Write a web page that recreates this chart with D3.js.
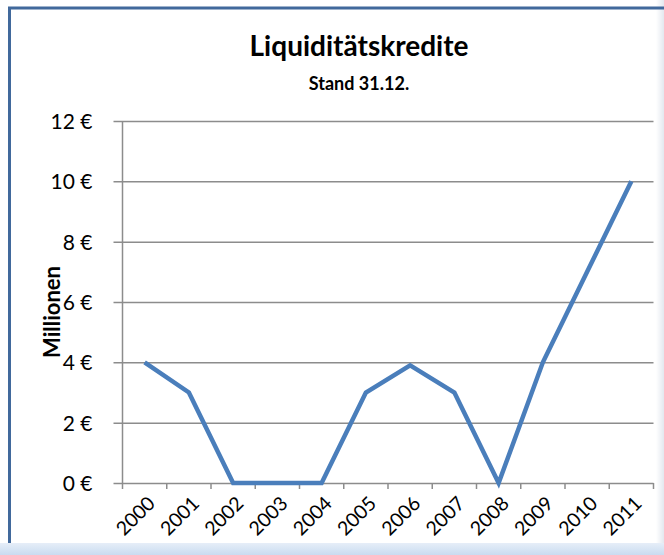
<!DOCTYPE html>
<html>
<head>
<meta charset="utf-8">
<script src="https://cdn.jsdelivr.net/npm/d3@7"></script>
<style>
  body { margin: 0; background: #fff; }
  svg { display: block; font-family: Lato, "Open Sans", sans-serif; }
</style>
</head>
<body>
<div id="chart"></div>
<script>
// data
var years = ["2000", "2001", "2002", "2003", "2004", "2005", "2006", "2007", "2008", "2009", "2010", "2011"];
var values = [4, 3, 0, 0, 0, 3, 3.9, 3, 0, 4, 7, 10];
var yTicks = [0, 2, 4, 6, 8, 10, 12];

var width = 664, height = 555;
var plotLeft = 122.5, plotRight = 653.5, plotTop = 121, plotBottom = 483;

var svg = d3.select("#chart").append("svg")
    .attr("width", width)
    .attr("height", height);

var defs = svg.append("defs");
var gb = defs.append("linearGradient").attr("id", "bot").attr("x1", 0).attr("y1", 0).attr("x2", 0).attr("y2", 1);
gb.append("stop").attr("offset", "0%").attr("stop-color", "#e6eef8");
gb.append("stop").attr("offset", "100%").attr("stop-color", "#c9dbf0");
var gr = defs.append("linearGradient").attr("id", "rgt").attr("x1", 0).attr("y1", 0).attr("x2", 1).attr("y2", 0);
gr.append("stop").attr("offset", "0%").attr("stop-color", "#ffffff");
gr.append("stop").attr("offset", "100%").attr("stop-color", "#e3e8ef");

//frame
svg.append("rect").attr("x", 656).attr("y", 0).attr("width", 8).attr("height", height).attr("fill", "url(#rgt)");
svg.append("rect").attr("x", 0).attr("y", 543).attr("width", width).attr("height", 12).attr("fill", "url(#bot)");
svg.append("path")
    .attr("d", "M9.5,543 V8 H664")
    .attr("fill", "none")
    .attr("stroke", "#41699c")
    .attr("stroke-width", 3);

var x = d3.scaleBand().domain(years).range([plotLeft, plotRight]);
var y = d3.scaleLinear().domain([0, 12]).range([plotBottom, plotTop]);

//grid + y ticks
var yAxis = d3.axisLeft(y)
    .tickValues(yTicks)
    .tickSize(-(plotRight - plotLeft) - 9)
    .tickPadding(22)
    .tickFormat(function(d) { return d + " €"; });

var gy = svg.append("g")
    .attr("transform", "translate(" + (plotLeft - 9) + ",0)")
    .call(yAxis);
gy.select(".domain").remove();
gy.selectAll(".tick line").attr("stroke", "#8c8c8c").attr("stroke-width", 1.5);
gy.selectAll(".tick text")
    .attr("x", -21)
    .attr("font-size", 21)
    .attr("font-family", "Lato, sans-serif")
    .attr("fill", "#000")
    .attr("dy", "0.35em");

//y axis line
svg.append("line")
    .attr("x1", plotLeft).attr("x2", plotLeft)
    .attr("y1", plotTop).attr("y2", plotBottom)
    .attr("stroke", "#8c8c8c").attr("stroke-width", 1.5);

//x ticks at band edges
var edges = years.map(function(d) { return x(d); }).concat([plotRight]);
svg.selectAll(".xt").data(edges).enter().append("line")
    .attr("class", "xt")
    .attr("x1", function(d) { return d; }).attr("x2", function(d) { return d; })
    .attr("y1", plotBottom).attr("y2", plotBottom + 6)
    .attr("stroke", "#8c8c8c").attr("stroke-width", 1.5);

//x labels
svg.selectAll(".xl").data(years).enter().append("text")
    .attr("class", "xl")
    .attr("transform", function(d) {
        return "translate(" + (x(d) + x.bandwidth() / 2 + 2) + "," + (plotBottom + 12) + ")rotate(-45)";
    })
    .attr("text-anchor", "end")
    .attr("font-size", 19.5)
    .attr("dy", "0.7em")
    .text(function(d) { return d; });

//line
var line = d3.line()
    .x(function(d, i) { return x(years[i]) + x.bandwidth() / 2; })
    .y(function(d) { return y(d); });

svg.append("path")
    .datum(values)
    .attr("d", line)
    .attr("fill", "none")
    .attr("stroke", "#4a7ebb")
    .attr("stroke-width", 4.5)
    .attr("stroke-linejoin", "miter");

//titles
svg.append("text")
    .attr("x", 359).attr("y", 56)
    .attr("text-anchor", "middle")
    .attr("font-size", 28)
    .attr("font-weight", "bold")
    .text("Liquiditätskredite");

svg.append("text")
    .attr("x", 359).attr("y", 90)
    .attr("text-anchor", "middle")
    .attr("font-size", 18)
    .attr("font-weight", "bold")
    .text("Stand 31.12.");

svg.append("text")
    .attr("transform", "translate(60,312)rotate(-90)")
    .attr("text-anchor", "middle")
    .attr("font-size", 22)
    .attr("font-weight", "bold")
    .text("Millionen");
</script>
</body>
</html>
